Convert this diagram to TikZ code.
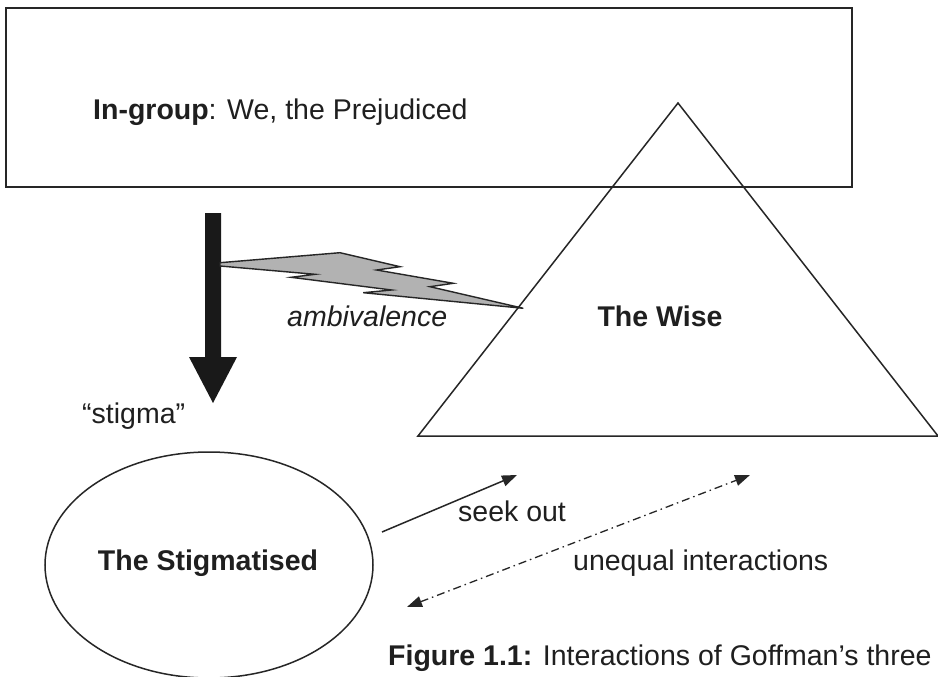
\documentclass[tikz,border=0pt]{standalone}
\usepackage{fontspec}
\setmainfont{Liberation Sans}
\usetikzlibrary{arrows.meta,shapes.geometric}
\begin{document}
\begin{tikzpicture}[x=1pt,y=-1pt,
  txt/.style={font=\fontsize{28.5}{34}\selectfont, text=black!88, inner sep=0pt, anchor=base west},
  outline/.style={draw=black!85, line width=1.5pt},
  tip/.style={-{Triangle[length=15pt,width=11pt]}},
  dashdot/.style={draw=black!85, line width=1.3pt, dash pattern=on 8pt off 4pt on 1.5pt off 4pt}]
\fill[white] (0,0) rectangle (938,677);
\useasboundingbox (0,0) rectangle (938,677);

% in-group box
\node[outline, rectangle, minimum width=846pt, minimum height=179pt, inner sep=0pt] (ingroup) at (429,97.5) {};
\node[txt] (ingrouptext) at (93,120) {\textbf{In-group}: We, the Prejudiced};

% triangle (the wise), clipped at the picture edge
\begin{scope}
\clip (0,0) rectangle (938,677);
\draw[outline, line join=miter] (678,103) -- (938,436) -- (418,436) -- cycle;
\end{scope}
\node[txt, anchor=base] (wise) at (660,326) {\textbf{The Wise}};

% thick black stigma arrow
\fill[black!90] (205,213) -- (221,213) -- (221,357) -- (237,357) -- (213,403) -- (189,357) -- (205,357) -- cycle;
\node[txt] (stigmalabel) at (82,423) {“stigma”};

% lightning bolt
\filldraw[fill=gray!60, draw=black!85, line width=1.4pt, line join=miter]
  (220,262.7) -- (340,252.7) -- (400,266.7) -- (376.7,270) -- (453.3,283.3) -- (430,286.7)
  -- (523.3,308.3) -- (363.3,292.7) -- (391.7,290) -- (291,277.3) -- (315,274.3) -- (220,266) -- cycle;
\node[txt] (amb) at (287,326) {\itshape ambivalence};

% ellipse
\node[outline, ellipse, minimum width=328pt, minimum height=226pt, inner sep=0pt] (stig) at (209,565) {};
\node[txt, anchor=base] (stigtext) at (208,570) {\textbf{The Stigmatised}};

% seek out
\coordinate (so1) at (382,532);
\coordinate (so2) at (517,475);
\draw[draw=black!85, line width=1.5pt, tip] (so1) -- (so2);
\node[txt] (seek) at (458,521) {seek out};

% unequal interactions
\coordinate (ui1) at (407,607);
\coordinate (ui2) at (750,475);
\draw[dashdot, {Triangle[length=15pt,width=11pt]}-{Triangle[length=15pt,width=11pt]}] (ui1) -- (ui2);
\node[txt] (unequal) at (573,570) {unequal interactions};

% caption
\node[txt] (caption) at (388,665) {\textbf{Figure 1.1:} Interactions of Goffman’s three};
\end{tikzpicture}
\end{document}
